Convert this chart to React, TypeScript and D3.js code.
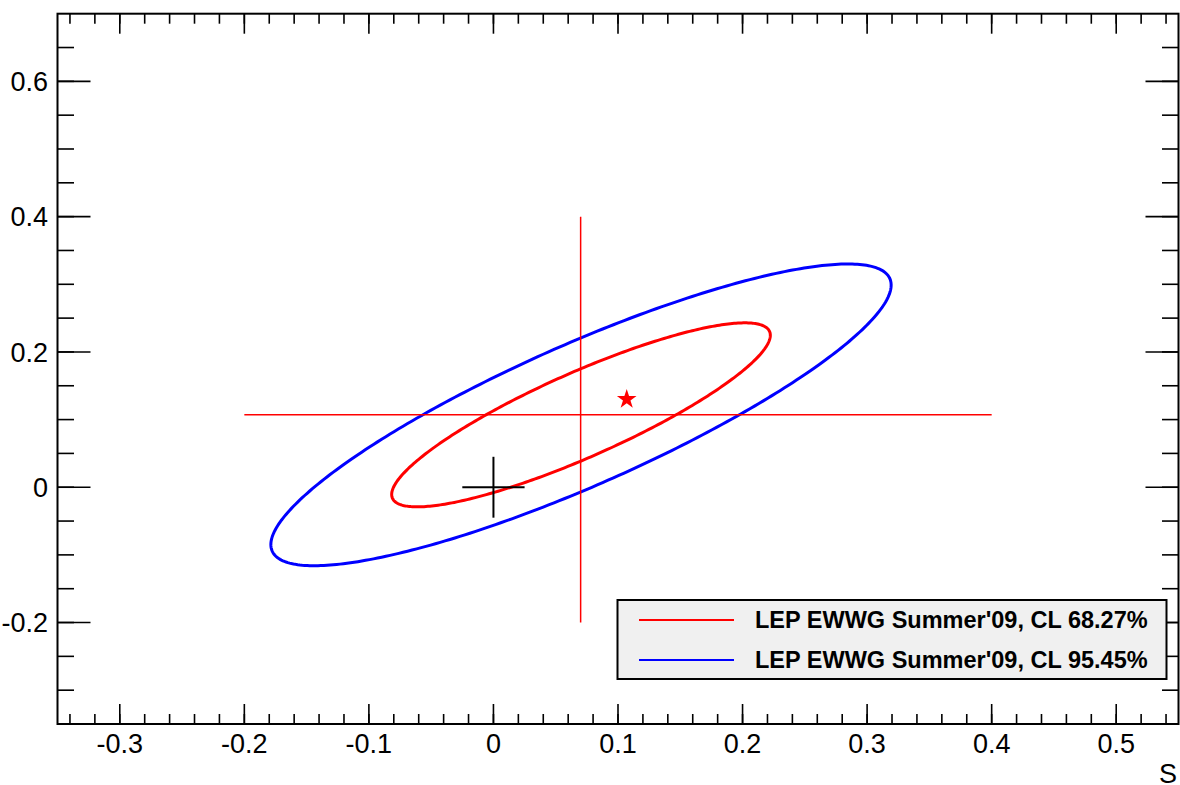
import React from "react";
import * as d3 from "d3";

// ---- data ----
const xDomain = [-0.35, 0.55];
const yDomain = [-0.35, 0.7];
const xMajorTicks = [-0.3, -0.2, -0.1, 0, 0.1, 0.2, 0.3, 0.4, 0.5];
const yMajorTicks = [-0.2, 0, 0.2, 0.4, 0.6];
const xTickLabels = ["-0.3", "-0.2", "-0.1", "0", "0.1", "0.2", "0.3", "0.4", "0.5"];
const yTickLabels = ["-0.2", "0", "0.2", "0.4", "0.6"];
const xAxisTitle = "S";

const contourLabels = ["LEP EWWG Summer'09, CL 68.27%", "LEP EWWG Summer'09, CL 95.45%"];
const contourHalfWidthS = [0.152, 0.249];
const contourHalfWidthT = [0.136, 0.223];
const contourCenter = [0.0703, 0.107];
const contourCorrelation = [0.865, 0.86];

const fitCrossS = [0.07, 0.107]; // vertical line at S, and T of horizontal line
const fitCrossRange = [-0.2, 0.4];
const starPoint = [0.107, 0.13];
const smPoint = [0, 0];
const smErrors = [0.025, 0.045];

const W = 1180;
const H = 785;
const L = 57.5, R = 1178.5, T = 13.7, B = 724;

export default function App() {
  const x = d3.scaleLinear().domain(xDomain).range([L, R]);
  const y = d3.scaleLinear().domain(yDomain).range([B, T]);

  const xMinor = d3.range(-0.34, 0.55, 0.02).map((v) => +v.toFixed(2));
  const yMinor = d3.range(-0.3, 0.7, 0.05).map((v) => +v.toFixed(2));

  const line = d3
    .line<[number, number]>()
    .x((d) => x(d[0]))
    .y((d) => y(d[1]))
    .curve(d3.curveLinearClosed);

  const ellipse = (i: number) => {
    const n = 360;
    const pts: [number, number][] = [];
    const rho = contourCorrelation[i];
    for (let k = 0; k < n; k++) {
      const t = (k / n) * Math.PI * 2;
      pts.push([
        contourCenter[0] + contourHalfWidthS[i] * Math.cos(t),
        contourCenter[1] + contourHalfWidthT[i] * (rho * Math.cos(t) + Math.sqrt(1 - rho * rho) * Math.sin(t)),
      ]);
    }
    return line(pts) || "";
  };

  const colors = ["#ff0000", "#0000ff"];
  const star = d3.symbol().type(d3.symbolStar).size(120)() || "";
  const font = "'Liberation Sans', Arial, Helvetica, sans-serif";

  return (
    <svg
      width={W}
      height={H}
      style={{ position: "absolute", left: 0, top: 0, background: "#fff" }}
      fontFamily={font}
    >
      <rect x={0} y={0} width={W} height={H} fill="#fff" />

      {/* contours */}
      {[1, 0].map((i) => (
        <path key={i} d={ellipse(i)} fill="none" stroke={colors[i]} strokeWidth={3} />
      ))}

      {/* red fit cross */}
      <line
        x1={x(fitCrossS[0])}
        x2={x(fitCrossS[0])}
        y1={y(fitCrossRange[0])}
        y2={y(fitCrossRange[1])}
        stroke="#ff0000"
        strokeWidth={1.5}
      />
      <line
        x1={x(fitCrossRange[0])}
        x2={x(fitCrossRange[1])}
        y1={y(fitCrossS[1])}
        y2={y(fitCrossS[1])}
        stroke="#ff0000"
        strokeWidth={1.5}
      />
      <path d={star} transform={`translate(${x(starPoint[0])},${y(starPoint[1])})`} fill="#ff0000" />

      {/* SM cross */}
      <line
        x1={x(smPoint[0] - smErrors[0])}
        x2={x(smPoint[0] + smErrors[0])}
        y1={y(smPoint[1])}
        y2={y(smPoint[1])}
        stroke="#000"
        strokeWidth={2}
      />
      <line
        x1={x(smPoint[0])}
        x2={x(smPoint[0])}
        y1={y(smPoint[1] - smErrors[1])}
        y2={y(smPoint[1] + smErrors[1])}
        stroke="#000"
        strokeWidth={2}
      />

      {/* ticks */}
      <g stroke="#000" strokeWidth={1.6}>
        {xMinor.map((v) => (
          <g key={"xm" + v}>
            <line x1={x(v)} x2={x(v)} y1={B} y2={B - 10} />
            <line x1={x(v)} x2={x(v)} y1={T} y2={T + 10} />
          </g>
        ))}
        {xMajorTicks.map((v) => (
          <g key={"xM" + v}>
            <line x1={x(v)} x2={x(v)} y1={B} y2={B - 20} />
            <line x1={x(v)} x2={x(v)} y1={T} y2={T + 20} />
          </g>
        ))}
        {yMinor.map((v) => (
          <g key={"ym" + v}>
            <line x1={L} x2={L + 16.5} y1={y(v)} y2={y(v)} />
            <line x1={R} x2={R - 16.5} y1={y(v)} y2={y(v)} />
          </g>
        ))}
        {yMajorTicks.map((v) => (
          <g key={"yM" + v}>
            <line x1={L} x2={L + 33} y1={y(v)} y2={y(v)} />
            <line x1={R} x2={R - 33} y1={y(v)} y2={y(v)} />
          </g>
        ))}
      </g>

      {/* frame */}
      <rect x={L} y={T} width={R - L} height={B - T} fill="none" stroke="#000" strokeWidth={2} />

      {/* tick labels */}
      <g fontSize={27} fill="#000">
        {xMajorTicks.map((v, i) => (
          <text key={"xl" + v} x={x(v)} y={753} textAnchor="middle">
            {xTickLabels[i]}
          </text>
        ))}
        {yMajorTicks.map((v, i) => (
          <text key={"yl" + v} x={48} y={y(v) + 9.7} textAnchor="end">
            {yTickLabels[i]}
          </text>
        ))}
        <text x={1177} y={783} textAnchor="end">
          {xAxisTitle}
        </text>
      </g>

      {/* legend */}
      <rect x={617.5} y={600} width={549} height={79} fill="#f0f0f0" stroke="#000" strokeWidth={2} />
      {contourLabels.map((lab, i) => {
        const yy = 620 + i * 40;
        return (
          <g key={lab}>
            <line x1={639} x2={734} y1={yy} y2={yy} stroke={colors[i]} strokeWidth={2} />
            <text x={755} y={yy + 8} fontSize={23.5} fontWeight="bold" fill="#000">
              {lab}
            </text>
          </g>
        );
      })}
    </svg>
  );
}
